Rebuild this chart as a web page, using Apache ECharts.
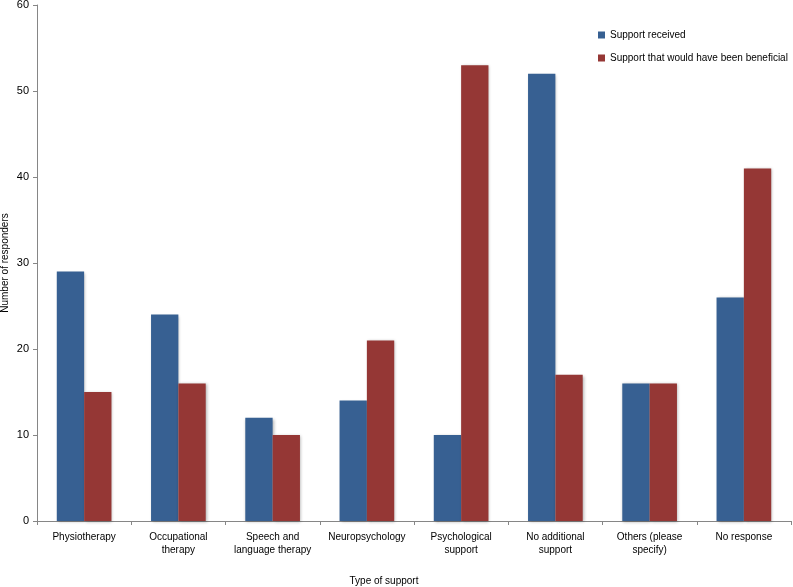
<!DOCTYPE html>
<html><head><meta charset="utf-8">
<script src="https://cdn.jsdelivr.net/npm/echarts@6/dist/echarts.min.js"></script>
<style>html,body{margin:0;padding:0;background:#fff}#c{width:793px;height:587px}</style>
</head><body><div id="c"></div>
<script>
const categories = ['Physiotherapy','Occupational\ntherapy','Speech and\nlanguage therapy','Neuropsychology','Psychological\nsupport','No additional\nsupport','Others (please\nspecify)','No response'];
const received = [29,24,12,14,10,52,16,26];
const beneficial = [15,16,10,21,53,17,16,41];
const yTicks = {min:0, max:60, interval:10};
const font = 'Liberation Sans, Arial, sans-serif';
const chart = echarts.init(document.getElementById('c'));
chart.setOption({
  animation:false,
  textStyle:{fontFamily:font},
  grid:{left:37,right:2,top:5,bottom:66,containLabel:false,outerBoundsMode:'none'},
  legend:{orient:'vertical',left:593,top:25,itemWidth:7,itemHeight:7,itemGap:13,icon:'rect',
    textStyle:{fontSize:10,color:'#000',fontFamily:font},
    data:['Support received','Support that would have been beneficial']},
  xAxis:{type:'category',data:categories,name:'Type of support',nameLocation:'middle',nameGap:55,
    nameMoveOverlap:false,
    nameTextStyle:{fontSize:10,color:'#000',padding:[0,60,0,0]},
    axisLine:{lineStyle:{color:'#868686'}},
    axisTick:{show:true,alignWithLabel:false,length:4,lineStyle:{color:'#868686'}},
    axisLabel:{fontSize:10,color:'#000',margin:10,lineHeight:13,interval:0}},
  yAxis:{type:'value',min:yTicks.min,max:yTicks.max,interval:yTicks.interval,
    name:'Number of responders',nameLocation:'middle',nameGap:27,nameRotate:90,
    nameMoveOverlap:false,
    nameTextStyle:{fontSize:10,color:'#000'},
    axisLine:{show:true,lineStyle:{color:'#868686'}},
    axisTick:{show:true,length:4,lineStyle:{color:'#868686'}},
    splitLine:{show:false},
    axisLabel:{fontSize:11,color:'#000',margin:8}},
  series:[
    {name:'Support received',type:'bar',data:received,barGap:'0%',barCategoryGap:'42%',
      itemStyle:{color:'#376092',shadowColor:'rgba(0,0,0,0.3)',shadowBlur:3,shadowOffsetX:1,shadowOffsetY:1}},
    {name:'Support that would have been beneficial',type:'bar',data:beneficial,barGap:'0%',barCategoryGap:'42%',
      itemStyle:{color:'#953735',shadowColor:'rgba(0,0,0,0.3)',shadowBlur:3,shadowOffsetX:1,shadowOffsetY:1}}
  ]
});
</script></body></html>
